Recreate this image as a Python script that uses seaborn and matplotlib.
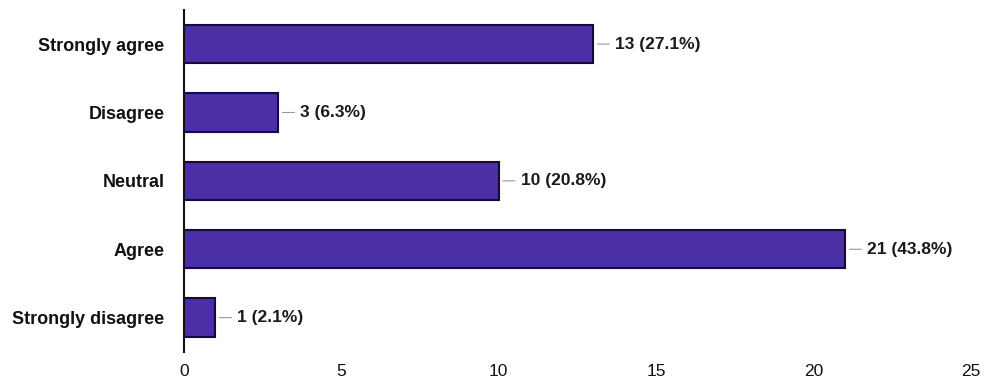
import matplotlib
matplotlib.use("Agg")
import matplotlib.pyplot as plt
import seaborn as sns
import pandas as pd

# -----------------------------
# Data
# -----------------------------
categories = ["Strongly agree", "Disagree", "Neutral", "Agree", "Strongly disagree"]
counts = [13, 3, 10, 21, 1]
percents = [27.1, 6.3, 20.8, 43.8, 2.1]

df = pd.DataFrame({"Response": categories, "Count": counts})

# -----------------------------
# Plot
# -----------------------------
sns.set_style("white")
plt.rcParams["font.family"] = ["Liberation Sans", "DejaVu Sans"]

fig = plt.figure(figsize=(9.88, 3.82), dpi=100)
ax = fig.add_axes([0.186, 0.079, 0.797, 0.895])

sns.barplot(
    data=df,
    x="Count",
    y="Response",
    orient="h",
    color="#4a2fa6",
    saturation=1,
    width=0.56,
    edgecolor="#160a3c",
    linewidth=1.5,
    ax=ax
)

for i, (c, p) in enumerate(zip(counts, percents)):
    ax.annotate(
        f"{c} ({p}%)",
        xy=(c, i),
        xytext=(16, 0),
        textcoords="offset points",
        va="center",
        ha="left",
        fontsize=12.5,
        fontweight="bold",
        color="#1a1a1a",
        arrowprops=dict(arrowstyle="-", color="#999999", lw=0.8,
                        shrinkA=2, shrinkB=3)
    )

ax.set_xlim(0, 25)
ax.set_ylim(4.5, -0.5)
ax.set_xticks([0, 5, 10, 15, 20, 25])
ax.set_xlabel("")
ax.set_ylabel("")

for side in ["top", "right", "bottom"]:
    ax.spines[side].set_visible(False)
ax.spines["left"].set_color("#111111")
ax.spines["left"].set_linewidth(1.5)

ax.tick_params(axis="both", length=0, colors="#111111")
ax.tick_params(axis="x", pad=9, labelsize=12.5)
ax.tick_params(axis="y", pad=14, labelsize=13)
for lbl in ax.get_yticklabels():
    lbl.set_fontweight("bold")

fig.savefig("out.png", dpi=100)
